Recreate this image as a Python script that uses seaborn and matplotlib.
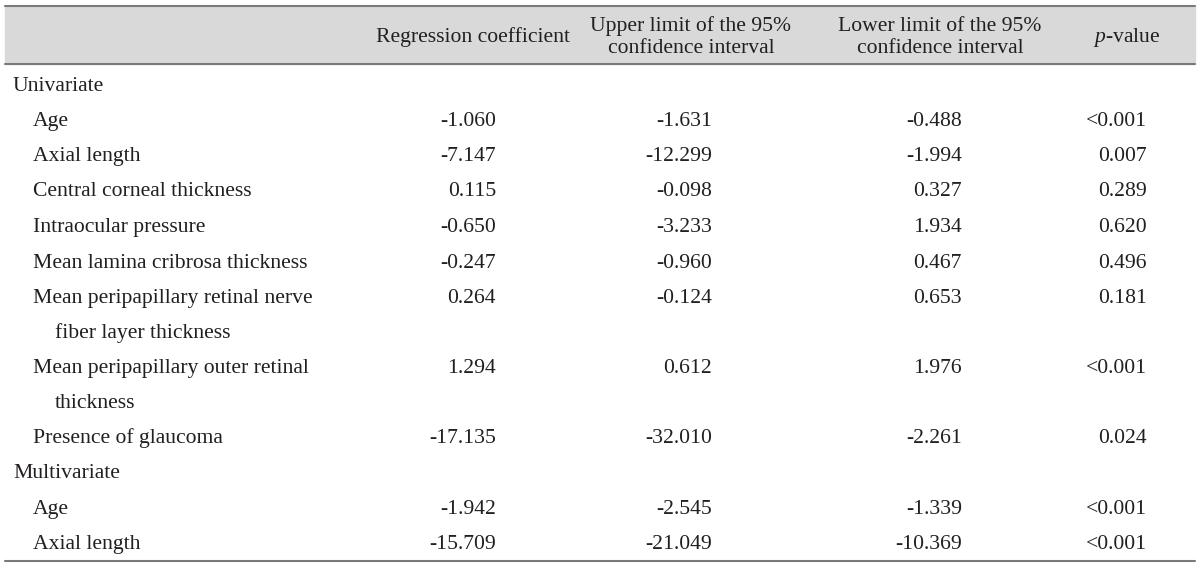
import matplotlib
matplotlib.use("Agg")
import matplotlib.pyplot as plt
import seaborn as sns

# Table content
headers = ["Regression coefficient",
           "Upper limit of the 95%\nconfidence interval",
           "Lower limit of the 95%\nconfidence interval",
           "$\\it{p}$-value"]

labels = ["Univariate",
          "Age",
          "Axial length",
          "Central corneal thickness",
          "Intraocular pressure",
          "Mean lamina cribrosa thickness",
          "Mean peripapillary retinal nerve\nfiber layer thickness",
          "Mean peripapillary outer retinal\nthickness",
          "Presence of glaucoma",
          "Multivariate",
          "Age",
          "Axial length"]
is_group = [True, False, False, False, False, False, False, False, False, True, False, False]

coef = ["", "-1.060", "-7.147", "0.115", "-0.650", "-0.247", "0.264", "1.294", "-17.135", "", "-1.942", "-15.709"]
upper = ["", "-1.631", "-12.299", "-0.098", "-3.233", "-0.960", "-0.124", "0.612", "-32.010", "", "-2.545", "-21.049"]
lower = ["", "-0.488", "-1.994", "0.327", "1.934", "0.467", "0.653", "1.976", "-2.261", "", "-1.339", "-10.369"]
pvals = ["", "<0.001", "0.007", "0.289", "0.620", "0.496", "0.181", "<0.001", "0.024", "", "<0.001", "<0.001"]

sns.set_theme(style="white")
plt.rcParams['font.family'] = ['Liberation Serif', 'DejaVu Serif']
plt.rcParams['mathtext.fontset'] = 'custom'
plt.rcParams['mathtext.it'] = 'Liberation Serif:italic'
plt.rcParams['mathtext.rm'] = 'Liberation Serif'

fig = plt.figure(figsize=(12, 5.66), dpi=100)
ax = fig.add_axes([0, 0, 1, 1])
ax.set_xlim(0, 1200)
ax.set_ylim(566, 0)
ax.axis("off")

fs = 15.6
color = "#231f20"
line_c = "#7a7a7a"

# header band and rules
ax.axhspan(6, 64, xmin=5 / 1200, xmax=1195 / 1200, color="#d9d9d9", zorder=0)
ax.plot([5, 1195], [6, 6], color=line_c, lw=1.5)
ax.plot([5, 1195], [64, 64], color=line_c, lw=1.5)
ax.plot([5, 1195], [561, 561], color=line_c, lw=1.5)

header_x = [473, 691, 940, 1127]
for hx, h in zip(header_x, headers):
    parts = h.split("\n")
    base = 42 if len(parts) == 1 else 31
    for k, ln in enumerate(parts):
        ax.text(hx, base + 22 * k, ln, ha="center", va="baseline",
                fontsize=fs, color=color)

# row baselines (first line of each row)
row_y = [91, 126, 161, 196, 232, 268, 303, 373, 443, 478, 514, 549]
value_x = [496, 712, 962, 1147]

for i, lab in enumerate(labels):
    y = row_y[i]
    x = 13 if is_group[i] else 33
    for k, ln in enumerate(lab.split("\n")):
        ax.text(x + (22 if k else 0), y + 35 * k, ln, ha="left", va="baseline",
                fontsize=fs, color=color)
    for vx, col in zip(value_x, [coef, upper, lower, pvals]):
        if col[i]:
            ax.text(vx, y, col[i], ha="right", va="baseline", fontsize=fs, color=color)

fig.savefig("out.png", dpi=100)
